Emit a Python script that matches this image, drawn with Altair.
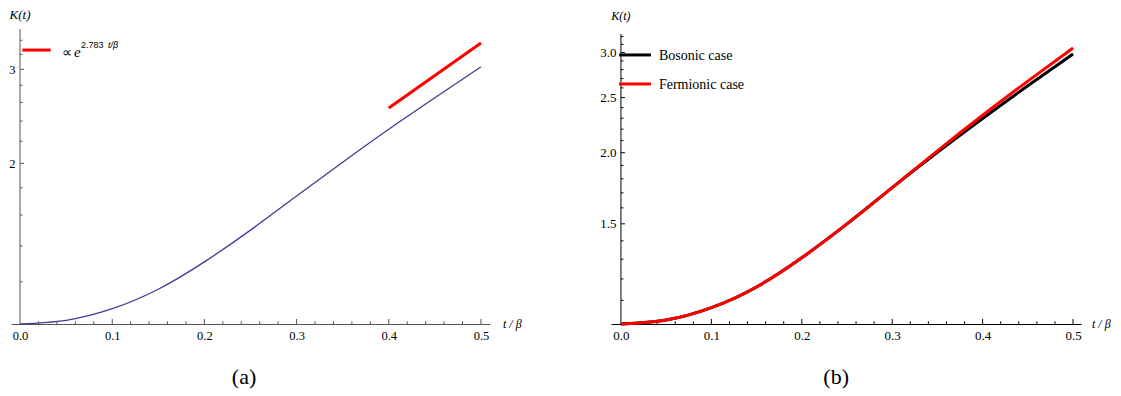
import altair as alt
import pandas as pd

# ---------------- data ----------------
t_grid = [0.00, 0.05, 0.10, 0.15, 0.20, 0.25, 0.30, 0.35, 0.40, 0.45, 0.50]
k_a = [1.0, 1.0161, 1.0682, 1.1618, 1.3073, 1.4993, 1.7367, 2.0097, 2.3164, 2.6540, 3.0313]
k_bos = [1.0, 1.0161, 1.0682, 1.1618, 1.3073, 1.4993, 1.7367, 2.0037, 2.2978, 2.6222, 2.9833]
k_fer = [1.0, 1.0161, 1.0682, 1.1618, 1.3073, 1.4993, 1.7367, 2.0158, 2.3280, 2.6725, 3.0558]
fit_t = [0.4, 0.5]
fit_k = [2.54, 3.36]

x_labels = [0.0, 0.1, 0.2, 0.3, 0.4, 0.5]
x_major = [0.1, 0.2, 0.3, 0.4, 0.5]
x_minor = [0.02, 0.04, 0.06, 0.08, 0.12, 0.14, 0.16, 0.18, 0.22, 0.24, 0.26, 0.28,
           0.32, 0.34, 0.36, 0.38, 0.42, 0.44, 0.46, 0.48]
ya_major = [2, 3]
ya_minor = [1.2, 1.4, 1.6, 1.8, 2.2, 2.4, 2.6, 2.8, 3.2, 3.4]
yb_major = [1.5, 2.0, 2.5, 3.0]
yb_minor = [1.1, 1.2, 1.3, 1.4, 1.6, 1.7, 1.8, 1.9, 2.1, 2.2, 2.3, 2.4,
            2.6, 2.7, 2.8, 2.9, 3.1, 3.2]

SERIF = "Liberation Serif"
SANS = "Liberation Sans"
BLUE = "#3d3d99"

xa_dom = [-0.0098, 0.5098]
ya_dom = [1.0, 3.57]
xb_dom = [-0.011, 0.5088]
yb_dom = [1.0, 3.30]
yb_axis_top = 3.235


def one():
    return alt.Chart(pd.DataFrame({"d": [0]}))


def ticks_layers(xs, ys, xmaj, xmin, ymaj, ymin, color):
    layers = []
    layers.append(alt.Chart(pd.DataFrame({"v": xmaj})).mark_rule(color=color, strokeWidth=1, y2Offset=-5)
                  .encode(x=alt.X("v:Q", scale=xs), y=alt.datum(1.0, scale=ys), y2=alt.datum(1.0)))
    layers.append(alt.Chart(pd.DataFrame({"v": xmin})).mark_rule(color=color, strokeWidth=1, y2Offset=-2.7)
                  .encode(x=alt.X("v:Q", scale=xs), y=alt.datum(1.0, scale=ys), y2=alt.datum(1.0)))
    layers.append(alt.Chart(pd.DataFrame({"v": ymaj})).mark_rule(color=color, strokeWidth=1, x2Offset=4)
                  .encode(y=alt.Y("v:Q", scale=ys), x=alt.datum(0.0, scale=xs), x2=alt.datum(0.0)))
    layers.append(alt.Chart(pd.DataFrame({"v": ymin})).mark_rule(color=color, strokeWidth=1, x2Offset=2.5)
                  .encode(y=alt.Y("v:Q", scale=ys), x=alt.datum(0.0, scale=xs), x2=alt.datum(0.0)))
    return layers


# ---------------- panel (a) ----------------
xa = alt.Scale(domain=xa_dom, nice=False, zero=False)
ya = alt.Scale(type="log", domain=ya_dom, nice=False)
AXC_A = "#555555"

df_a = pd.DataFrame({"t": t_grid, "k": k_a})
df_fit = pd.DataFrame({"t": fit_t, "k": fit_k})

curve_a = alt.Chart(df_a).mark_line(color=BLUE, strokeWidth=1.3, interpolate="natural").encode(
    x=alt.X("t:Q", scale=xa, axis=alt.Axis(values=x_labels, format=".1f", ticks=False, grid=False,
                                            domain=True, domainColor=AXC_A, labelFont=SERIF,
                                            labelFontSize=12.5, labelColor="black", labelPadding=5,
                                            labelFlush=False, title=None)),
    y=alt.Y("k:Q", scale=ya, axis=alt.Axis(values=ya_major, format="d", ticks=False, grid=False,
                                            domain=False, offset=-9, labelFont=SERIF, labelFontSize=12.5,
                                            labelColor="black", labelPadding=5, title=None)),
)
fit_a = alt.Chart(df_fit).mark_line(color="red", strokeWidth=3).encode(
    x=alt.X("t:Q", scale=xa), y=alt.Y("k:Q", scale=ya))
yline_a = one().mark_rule(color=AXC_A, strokeWidth=1).encode(
    x=alt.datum(0.0, scale=xa), y=alt.datum(1.0, scale=ya), y2=alt.datum(ya_dom[1]))

leg_a_line = one().mark_rule(color="red", strokeWidth=3).encode(
    x=alt.datum(0.0025), x2=alt.datum(0.0333), y=alt.datum(3.26))
leg_a_prop = one().mark_text(font=SERIF, fontSize=14, align="left", baseline="middle", dx=42, dy=3).encode(
    x=alt.datum(0.0), y=alt.datum(3.26), text=alt.value("\u221d"))
leg_a_e = one().mark_text(font=SERIF, fontSize=15, fontStyle="italic", align="left", baseline="middle",
                          dx=54, dy=2).encode(x=alt.datum(0.0), y=alt.datum(3.26), text=alt.value("e"))
leg_a_exp = one().mark_text(font=SANS, fontSize=9, align="left", baseline="middle", dx=61, dy=-5).encode(
    x=alt.datum(0.0), y=alt.datum(3.26), text=alt.value("2.783"))
leg_a_exp2 = one().mark_text(font=SANS, fontSize=9, fontStyle="italic", align="left", baseline="middle",
                             dx=88, dy=-5).encode(x=alt.datum(0.0), y=alt.datum(3.26), text=alt.value("t/\u03b2"))

klab_a = one().mark_text(font=SERIF, fontSize=13, fontStyle="italic", align="center", baseline="middle",
                         dy=-14).encode(x=alt.datum(0.0), y=alt.datum(ya_dom[1]), text=alt.value("K(t)"))
tlab_a = one().mark_text(font=SERIF, fontSize=12, fontStyle="italic", align="left", baseline="middle",
                         dx=13).encode(x=alt.datum(xa_dom[1]), y=alt.datum(1.0), text=alt.value("t / \u03b2"))
cap_a = one().mark_text(font=SERIF, fontSize=22, align="center", baseline="middle").encode(
    x=alt.datum(0.243), y=alt.datum(0.7956), text=alt.value("(a)"))

panel_a = alt.layer(
    curve_a, yline_a, *ticks_layers(xa, ya, x_major, x_minor, ya_major, ya_minor, AXC_A),
    fit_a, leg_a_line, leg_a_prop, leg_a_e, leg_a_exp, leg_a_exp2, klab_a, tlab_a, cap_a
).properties(width=479, height=295)

# ---------------- panel (b) ----------------
xb = alt.Scale(domain=xb_dom, nice=False, zero=False)
yb = alt.Scale(type="log", domain=yb_dom, nice=False)
AXC_B = "#000000"

df_bos = pd.DataFrame({"t": t_grid, "k": k_bos})
df_fer = pd.DataFrame({"t": t_grid, "k": k_fer})

curve_bos = alt.Chart(df_bos).mark_line(color="black", strokeWidth=3, interpolate="natural").encode(
    x=alt.X("t:Q", scale=xb, axis=alt.Axis(values=x_labels, format=".1f", ticks=False, grid=False,
                                            domain=True, domainColor=AXC_B, labelFont=SERIF,
                                            labelFontSize=13, labelColor="black", labelPadding=5,
                                            labelFlush=False, title=None)),
    y=alt.Y("k:Q", scale=yb, axis=alt.Axis(values=yb_major, format=".1f", ticks=False, grid=False,
                                            domain=False, offset=-10, labelFont=SERIF, labelFontSize=13,
                                            labelColor="black", labelPadding=5, title=None)),
)
curve_fer = alt.Chart(df_fer).mark_line(color="red", strokeWidth=3, interpolate="natural").encode(
    x=alt.X("t:Q", scale=xb), y=alt.Y("k:Q", scale=yb))
yline_b = one().mark_rule(color=AXC_B, strokeWidth=1).encode(
    x=alt.datum(0.0, scale=xb), y=alt.datum(1.0, scale=yb), y2=alt.datum(yb_axis_top))

leg_b1 = one().mark_rule(color="black", strokeWidth=3).encode(
    x=alt.datum(-0.002), x2=alt.datum(0.0332), y=alt.datum(2.971))
leg_b2 = one().mark_rule(color="red", strokeWidth=3).encode(
    x=alt.datum(-0.002), x2=alt.datum(0.0332), y=alt.datum(2.642))
leg_b1t = one().mark_text(font=SERIF, fontSize=14, align="left", baseline="middle", dy=1).encode(
    x=alt.datum(0.042), y=alt.datum(2.971), text=alt.value("Bosonic case"))
leg_b2t = one().mark_text(font=SERIF, fontSize=14, align="left", baseline="middle", dy=1).encode(
    x=alt.datum(0.042), y=alt.datum(2.642), text=alt.value("Fermionic case"))

klab_b = one().mark_text(font=SERIF, fontSize=12, fontStyle="italic", align="center", baseline="middle",
                         dy=-18).encode(x=alt.datum(0.0), y=alt.datum(yb_axis_top), text=alt.value("K(t)"))
tlab_b = one().mark_text(font=SERIF, fontSize=12, fontStyle="italic", align="left", baseline="middle",
                         dx=11).encode(x=alt.datum(xb_dom[1]), y=alt.datum(1.0), text=alt.value("t / \u03b2"))
cap_b = one().mark_text(font=SERIF, fontSize=22, align="center", baseline="middle").encode(
    x=alt.datum(0.238), y=alt.datum(0.8069), text=alt.value("(b)"))

panel_b = alt.layer(
    curve_bos, yline_b, *ticks_layers(xb, yb, x_major, x_minor, yb_major, yb_minor, AXC_B),
    curve_fer, leg_b1, leg_b2, leg_b1t, leg_b2t, klab_b, tlab_b, cap_b
).properties(width=470, height=295)

chart = alt.hconcat(panel_a, panel_b, spacing=121, bounds="flush").properties(
    padding={"left": 0, "top": 1, "right": 0, "bottom": 0}
).configure_view(stroke=None).configure_axis(labelFont=SERIF)

chart.save("out.html", embed_options={"renderer": "svg", "actions": False})
